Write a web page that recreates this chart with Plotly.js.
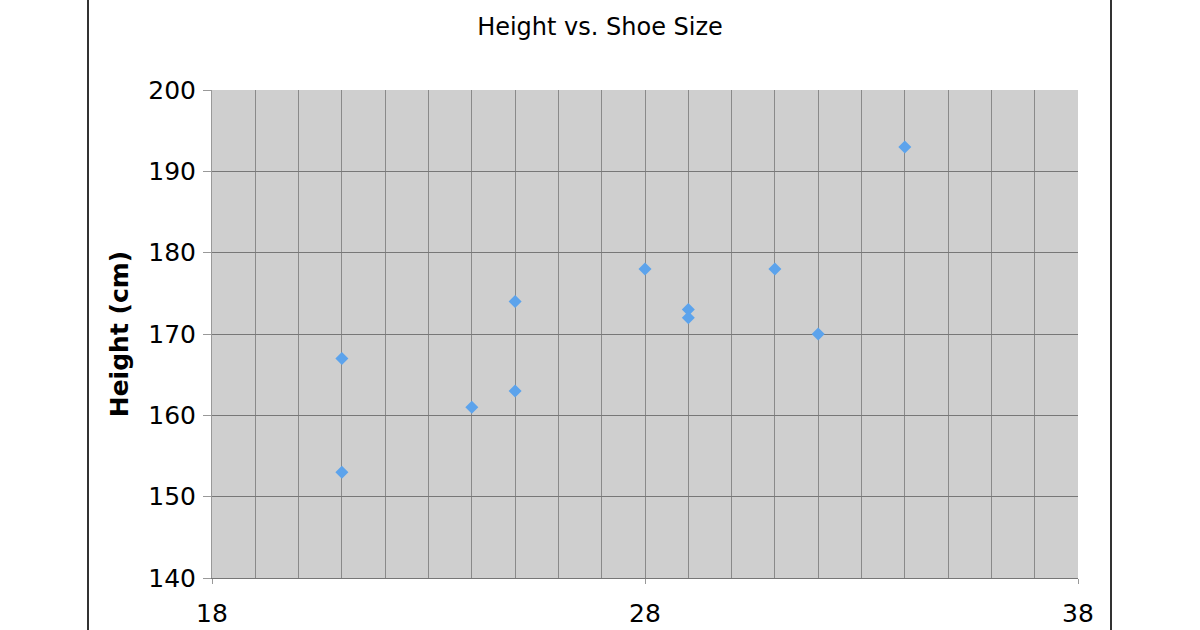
<!DOCTYPE html>
<html>
<head>
<meta charset="utf-8">
<script src="https://cdn.plot.ly/plotly-3.0.1.min.js"></script>
<style>
  html, body { margin: 0; padding: 0; background: #fff; }
  #chart { width: 1200px; height: 630px; }
</style>
</head>
<body>
<div id="chart"></div>
<script>
// shoe size vs height
var shoeSize = [21, 21, 24, 25, 25, 28, 29, 29, 31, 32, 34];
var heightCm = [167, 153, 161, 163, 174, 178, 173, 172, 178, 170, 193];

var xTicks = [18, 28, 38];
var yTicks = [140, 150, 160, 170, 180, 190, 200];

var trace = {
    x: shoeSize,
    y: heightCm,
    mode: 'markers',
    type: 'scatter',
    marker: { symbol: 'diamond', size: 10, color: '#5ca3ec' },
    hoverinfo: 'x+y'
};

// frame lines of the original image at x=88 and x=1111 px
var plotW = 1200 - 212 - 122, plotH = 630 - 90 - 52;
function px2paperX(px) { return (px - 212) / plotW; }
function px2paperY(py) { return (630 - 52 - py) / plotH; }
var frameShapes = [88, 1111].map(function(px) {
    return {
        type: 'line', xref: 'paper', yref: 'paper',
        x0: px2paperX(px), x1: px2paperX(px),
        y0: px2paperY(0), y1: px2paperY(630),
        line: { color: '#333', width: 2 }
    };
});

var layout = {
    width: 1200,
    height: 630,
    margin: { l: 212, r: 122, t: 90, b: 52 },
    paper_bgcolor: '#ffffff',
    plot_bgcolor: '#cfcfcf',
    font: { family: 'DejaVu Sans, Verdana, sans-serif', color: '#000' },
    title: {
        text: 'Height vs. Shoe Size',
        font: { size: 24 },
        x: 0.5, xanchor: 'center',
        y: 0.958, yanchor: 'middle'
    },
    showlegend: false,
    xaxis: {
        range: [18, 38],
        tickvals: xTicks,
        ticktext: xTicks.map(String),
        tickfont: { size: 25 },
        ticks: 'outside', ticklen: 5, tickcolor: '#999',
        ticklabelstandoff: 8,
        showgrid: false,
        minor: { dtick: 1, showgrid: true, gridcolor: '#8a8a8a', gridwidth: 1 },
        showline: true, linecolor: '#777', linewidth: 1,
        zeroline: false,
        fixedrange: true
    },
    yaxis: {
        range: [140, 200],
        tickvals: yTicks,
        tickfont: { size: 25 },
        ticks: 'outside', ticklen: 8, tickcolor: '#999',
        ticklabelstandoff: 2,
        showgrid: true, gridcolor: '#777', gridwidth: 1,
        showline: true, linecolor: '#999', linewidth: 1,
        zeroline: false,
        title: { text: '<b>Height (cm)</b>', font: { size: 25 }, standoff: 12 },
        fixedrange: true
    },
    shapes: frameShapes
};

Plotly.newPlot('chart', [trace], layout, { displayModeBar: false, staticPlot: true });
</script>
</body>
</html>
